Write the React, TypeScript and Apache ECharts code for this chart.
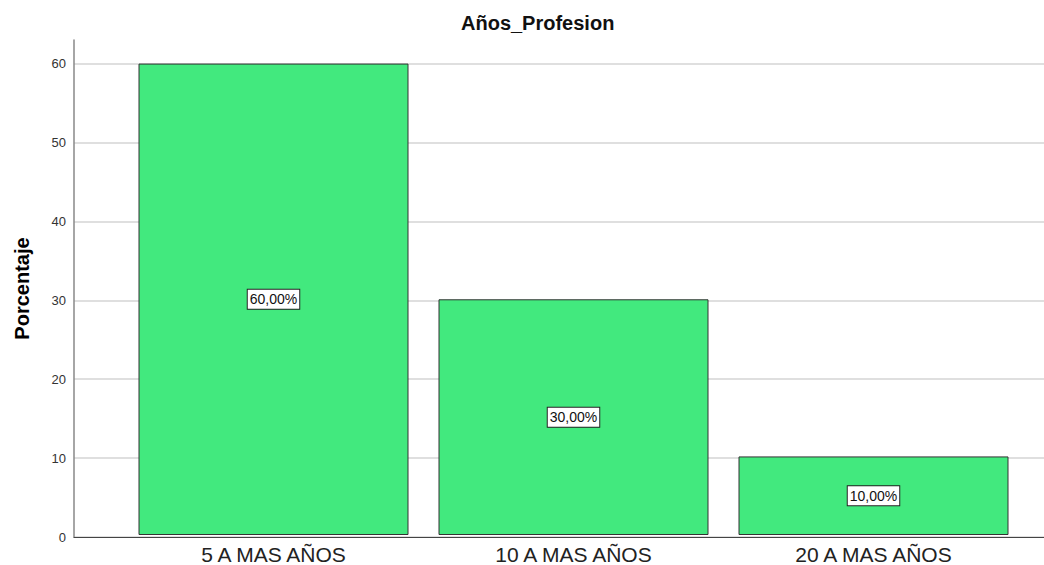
import React, { useEffect, useRef } from "react";
import * as echarts from "echarts";

const categories = ["5 A MAS AÑOS", "10 A MAS AÑOS", "20 A MAS AÑOS"];
const percentages = [60, 30, 10];
const axisTop = 63;
const tickMax = 60;
const tickStep = 10;
const title = "Años_Profesion";
const yName = "Porcentaje";

export default function App() {
  const ref = useRef<HTMLDivElement>(null);
  useEffect(() => {
    document.body.style.margin = "0";
    const chart = echarts.init(ref.current!, null, { renderer: "svg" });
    const font = "Liberation Sans, Arial, sans-serif";
    // plot spans y=40 (value 63) to y=537 (value 0)
    const plotTop = 40;
    const plotBottom = 28;
    const plotH = 565 - plotTop - plotBottom;
    const tickTop = plotTop + plotH * (1 - tickMax / axisTop);
    chart.setOption({
      animation: false,
      backgroundColor: "#ffffff",
      textStyle: { fontFamily: font },
      title: {
        text: title,
        left: 456,
        top: 8,
        textStyle: { fontSize: 20, fontWeight: "bold", color: "#111", fontFamily: font },
      },
      grid: [
        { left: 74, right: 0, top: plotTop, bottom: plotBottom },
        { left: 123.5, width: 900, top: plotTop, bottom: plotBottom },
        { left: 74, right: 0, top: tickTop, bottom: plotBottom },
      ],
      xAxis: [
        {
          type: "value",
          gridIndex: 0,
          min: 0,
          max: 1,
          axisLine: { show: true, lineStyle: { color: "#444", width: 1 } },
          axisTick: { show: false },
          axisLabel: { show: false },
          splitLine: { show: false },
        },
        {
          type: "category",
          gridIndex: 1,
          data: categories,
          axisLine: { show: false },
          axisTick: { show: false },
          axisLabel: { fontSize: 21, color: "#222", margin: 9, fontFamily: font },
        },
        {
          type: "value",
          gridIndex: 2,
          min: 0,
          max: 1,
          show: false,
          splitLine: { show: false },
        },
      ],
      yAxis: [
        {
          type: "value",
          gridIndex: 0,
          min: 0,
          max: axisTop,
          name: yName,
          nameLocation: "middle",
          nameGap: 42,
          nameTextStyle: { fontSize: 20, fontWeight: "bold", color: "#000", fontFamily: font },
          axisLine: { show: true, lineStyle: { color: "#888", width: 1.5 } },
          axisTick: { show: false },
          axisLabel: { show: false },
          splitLine: { show: false },
        },
        {
          type: "value",
          gridIndex: 1,
          min: 0,
          max: axisTop,
          show: false,
          splitLine: { show: false },
        },
        {
          type: "value",
          gridIndex: 2,
          min: 0,
          max: tickMax,
          interval: tickStep,
          axisLine: { show: false },
          axisTick: { show: false },
          axisLabel: { fontSize: 13, color: "#333", margin: 8, fontFamily: font },
          splitLine: { show: true, lineStyle: { color: "#d4d4d4", width: 1.5 } },
        },
      ],
      series: [
        {
          type: "bar",
          xAxisIndex: 1,
          yAxisIndex: 1,
          data: percentages,
          barWidth: 270,
          z: 3,
          itemStyle: { color: "#42e97e", borderColor: "#333", borderWidth: 1 },
          label: {
            show: true,
            position: "inside",
            formatter: (p: any) => p.value.toFixed(2).replace(".", ",") + "%",
            fontSize: 14,
            color: "#111",
            fontFamily: font,
            backgroundColor: "#ffffff",
            borderColor: "#222",
            borderWidth: 1,
            padding: [3, 2, 2, 2],
          },
        },
      ],
    });
    return () => chart.dispose();
  }, []);
  return <div ref={ref} style={{ width: 1044, height: 565 }} />;
}
